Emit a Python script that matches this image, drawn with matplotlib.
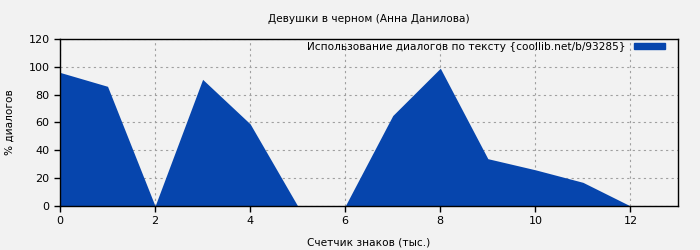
import matplotlib
matplotlib.use("Agg")
import matplotlib.pyplot as plt
from matplotlib.patches import Patch

x = [0, 1, 2, 3, 4, 5, 6, 7, 8, 9, 10, 11, 12]
y = [96, 86, 0, 91, 59, 0, 0, 65, 99, 34, 26, 17, 0]
title = "Девушки в черном (Анна Данилова)"
legend_label = "Использование диалогов по тексту {coollib.net/b/93285}"
xlabel = "Счетчик знаков (тыс.)"
ylabel = "% диалогов"
xticks = [0, 2, 4, 6, 8, 10, 12]
yticks = [0, 20, 40, 60, 80, 100, 120]

bg = "#f2f2f2"
fill_color = "#0645ad"

fig = plt.figure(figsize=(7, 2.5), dpi=100, facecolor=bg)
axl, axb, axw, axh = 60, 44, 678 - 60, 206 - 39
ax = fig.add_axes([axl/700, axb/250, axw/700, axh/250])
ax.set_facecolor(bg)
ax.fill_between(x, y, 0, color=fill_color, linewidth=0, zorder=2)
ax.set_xlim(0, 13)
ax.set_ylim(0, 120)
ax.set_xticks(xticks)
ax.set_yticks(yticks)
ax.grid(True, color="#a0a0a0", linestyle=(0, (2, 3)), linewidth=0.8, zorder=1)
for s in ax.spines.values():
    s.set_color("black")
    s.set_linewidth(1)
ax.tick_params(direction="out", length=4, width=1, labelsize=8, colors="black")
ax.set_xlabel(xlabel, fontsize=7.6, labelpad=8)
ax.set_ylabel(ylabel, fontsize=7.6, labelpad=10)
ax.set_title(title, fontsize=7.6, pad=12)
ax.legend(handles=[Patch(color=fill_color, label=legend_label)], loc="upper right",
          frameon=False, fontsize=7.6, markerfirst=False, handlelength=2.9, handleheight=0.57,
          handletextpad=0.85, borderaxespad=0,
          bbox_to_anchor=(1 - 8.8/axw, 1 + 1.5/axh))
fig.savefig("out.png", dpi=100, facecolor=bg)
